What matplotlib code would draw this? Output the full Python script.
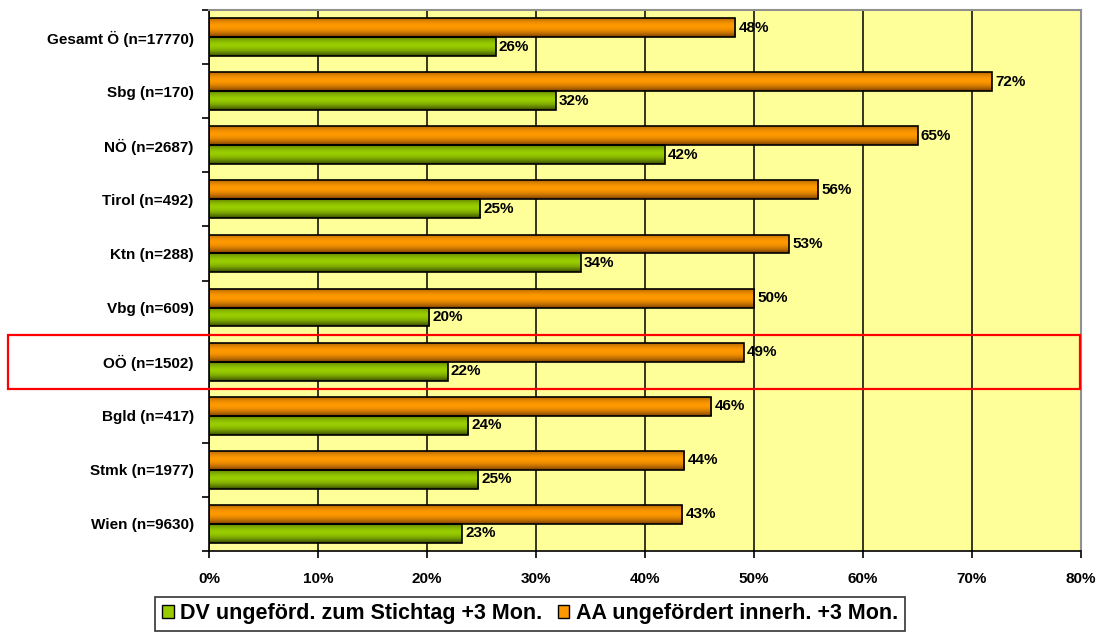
import numpy as np
import matplotlib
matplotlib.use("Agg")
import matplotlib.pyplot as plt
import matplotlib.transforms as mtransforms
from matplotlib.patches import Rectangle, Patch
from matplotlib.colors import LinearSegmentedColormap

# data, top to bottom as in the chart
regionen = ["Gesamt Ö (n=17770)", "Sbg (n=170)", "NÖ (n=2687)", "Tirol (n=492)",
            "Ktn (n=288)", "Vbg (n=609)", "OÖ (n=1502)", "Bgld (n=417)",
            "Stmk (n=1977)", "Wien (n=9630)"]
aa_ungefoerdert = [48.3, 71.8, 65.0, 55.9, 53.2, 50.0, 49.05, 46.1, 43.6, 43.4]
dv_ungefoerdert = [26.3, 31.8, 41.8, 24.9, 34.1, 20.2, 21.9, 23.8, 24.7, 23.2]
markiert = "OÖ (n=1502)"

label_dv = "DV ungeförd. zum Stichtag +3 Mon."
label_aa = "AA ungefördert innerh. +3 Mon."

plt.rcParams['font.family'] = ["Liberation Sans", "DejaVu Sans"]

fig = plt.figure(figsize=(11, 6.36), dpi=100)
ax = fig.add_axes([209/1100, 1 - 551/636, 872/1100, 541/636])
ax.set_facecolor("#FFFF99")

y = np.arange(len(regionen))
h = 0.35

def shaded_bars(bars, cmap):
    t = np.linspace(0, 1, 64)
    prof = np.clip(np.abs(t - 0.42) / 0.58, 0, 1) ** 1.8
    grad = prof.reshape(-1, 1)
    for b in bars:
        x0, y0 = b.get_x(), b.get_y()
        w, hh = b.get_width(), b.get_height()
        im = ax.imshow(grad, cmap=cmap, vmin=0, vmax=1.0, aspect="auto",
                       extent=(x0, x0 + w, y0 + hh, y0), zorder=2,
                       interpolation="bilinear")
        im.set_clip_path(b)

orange_cmap = LinearSegmentedColormap.from_list("o", ["#FF9900", "#7A3F00"])
green_cmap = LinearSegmentedColormap.from_list("g", ["#99CC00", "#354800"])

bars_aa = ax.barh(y - h/2, aa_ungefoerdert, height=h, color="#FF9900",
                  edgecolor="black", linewidth=1.2, zorder=3, label=label_aa)
bars_dv = ax.barh(y + h/2, dv_ungefoerdert, height=h, color="#99CC00",
                  edgecolor="black", linewidth=1.2, zorder=3, label=label_dv)
for b in list(bars_aa) + list(bars_dv):
    b.set_facecolor("none")
shaded_bars(bars_aa, orange_cmap)
shaded_bars(bars_dv, green_cmap)

for bars, vals in ((bars_aa, aa_ungefoerdert), (bars_dv, dv_ungefoerdert)):
    for b, v in zip(bars, vals):
        ax.text(v + 0.3, b.get_y() + b.get_height()/2, f"{v:.0f}%",
                va="center", ha="left", fontsize=11, fontweight="bold",
                zorder=4)

ax.set_xlim(0, 80)
ax.set_ylim(len(regionen) - 0.5, -0.5)
ax.set_xticks(np.arange(0, 81, 10))
ax.set_xticklabels([f"{v}%" for v in range(0, 81, 10)], fontsize=11,
                   fontweight="bold")
ax.set_yticks(y)
ax.set_yticklabels(regionen, fontsize=11, fontweight="bold")
ax.set_yticks(np.arange(len(regionen) + 1) - 0.5, minor=True)
ax.tick_params(axis="y", which="major", length=0, pad=11)
ax.tick_params(axis="y", which="minor", length=5, width=1.2, direction="out")
ax.tick_params(axis="x", length=5, width=1.2, direction="out", pad=10)
ax.xaxis.grid(True, color="black", linewidth=1.1, zorder=1)
ax.set_axisbelow(True)

for s in ("top", "right"):
    ax.spines[s].set_color("#909090")
    ax.spines[s].set_linewidth(1.5)
for s in ("left", "bottom"):
    ax.spines[s].set_color("black")
    ax.spines[s].set_linewidth(1.2)

# red highlight box around OÖ
i = regionen.index(markiert)
trans = mtransforms.blended_transform_factory(fig.transFigure, ax.transData)
ax.add_patch(Rectangle((8/1100, i - 0.5), (1080 - 8)/1100, 1.0,
                       transform=trans, fill=False, edgecolor="red",
                       linewidth=1.6, clip_on=False, zorder=6))

handles = [Patch(facecolor="#99CC00", edgecolor="black"),
           Patch(facecolor="#FF9900", edgecolor="black")]
leg = fig.legend(handles, [label_dv, label_aa], ncol=2, loc="center",
                 bbox_to_anchor=(530/1100, 1 - 614/636), frameon=True,
                 fancybox=False, edgecolor="black",
                 prop={"weight": "bold", "size": 15.5},
                 handlelength=0.55, handleheight=0.55, handletextpad=0.3,
                 columnspacing=0.7, borderpad=0.3)
leg.get_frame().set_linewidth(1.2)

fig.savefig("out.png", dpi=100)
